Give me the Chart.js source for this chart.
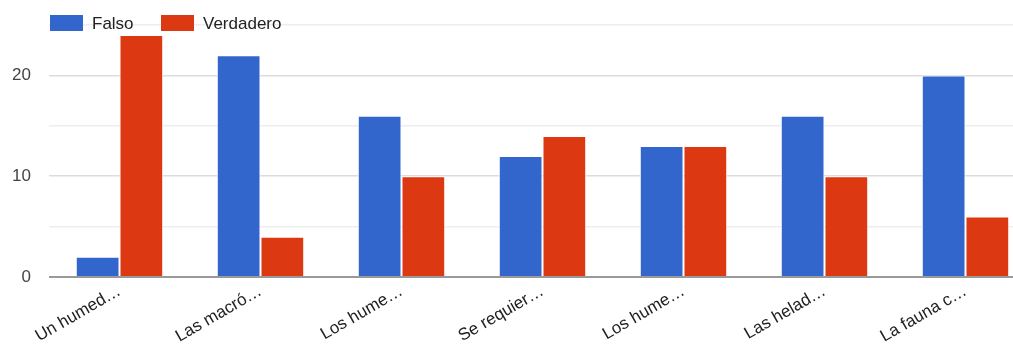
<!DOCTYPE html>
<html lang="es">
<head>
  <meta charset="UTF-8">
  <title>Falso / Verdadero</title>
  <style>
    html, body { margin: 0; padding: 0; background: #fff; overflow: hidden; }
    /* el gráfico es más ancho que la ventana; el borde derecho queda recortado */
    .chart-container { position: relative; width: 1036px; height: 344px; }
  </style>
</head>
<body>
  <div class="chart-container">
    <canvas id="barChart"></canvas>
  </div>

  <script src="https://cdn.jsdelivr.net/npm/chart.js"></script>
  <script>
    // Datos de la encuesta
    const preguntas = ['Un humed…', 'Las macró…', 'Los hume…', 'Se requier…', 'Los hume…', 'Las helad…', 'La fauna c…'];
    const falso = [2, 22, 16, 12, 13, 16, 20];
    const verdadero = [24, 4, 10, 14, 13, 10, 6];
    const yMax = 25;

    const FONT = "Arial, 'Liberation Sans', sans-serif";

    // Leyenda dibujada encima de la primera línea de la cuadrícula
    const topLegend = {
      id: 'topLegend',
      afterDraw(chart) {
        const ctx = chart.ctx;
        let x = 50;
        const y = 15;
        ctx.save();
        ctx.font = '17px ' + FONT;
        ctx.textBaseline = 'middle';
        chart.data.datasets.forEach(ds => {
          ctx.fillStyle = ds.backgroundColor;
          ctx.fillRect(x, y, 33, 16);
          ctx.fillStyle = '#222';
          ctx.fillText(ds.label, x + 42, y + 9);
          x += 111;
        });
        ctx.restore();
      }
    };

    const ctx = document.getElementById('barChart').getContext('2d');
    new Chart(ctx, {
      type: 'bar',
      data: {
        labels: preguntas,
        datasets: [
          { label: 'Falso', data: falso, backgroundColor: '#3366cc', borderColor: '#ffffff', borderWidth: 1 },
          { label: 'Verdadero', data: verdadero, backgroundColor: '#dc3912', borderColor: '#ffffff', borderWidth: 1 }
        ]
      },
      options: {
        responsive: true,
        maintainAspectRatio: false,
        animation: false,
        layout: { padding: { top: 25, right: 0, bottom: 0, left: 0 } },
        datasets: { bar: { categoryPercentage: 0.62, barPercentage: 1.0 } },
        plugins: {
          legend: { display: false },
          tooltip: { enabled: false }
        },
        scales: {
          x: {
            grid: { display: false },
            border: { display: false },
            ticks: {
              autoSkip: false,
              minRotation: 30,
              maxRotation: 30,
              color: '#222',
              padding: -4,
              font: { family: FONT, size: 17 }
            },
            afterFit: scale => { scale.height = 67; }
          },
          y: {
            min: 0,
            max: yMax,
            border: { display: false },
            grid: {
              drawTicks: false,
              color: c => c.tick.value === 0 ? '#999' : (c.tick.value % 10 === 0 ? '#dcdcdc' : '#ededed'),
              lineWidth: c => c.tick.value === 0 ? 2 : 1.5
            },
            ticks: {
              stepSize: 5,
              padding: 18,
              color: '#444',
              font: { family: FONT, size: 17 },
              callback: v => v % 10 === 0 ? v : ''
            },
            afterFit: scale => {
              scale.width = 49;
              // las etiquetas no deben empujar el área del gráfico
              scale.paddingTop = 0;
              scale.paddingBottom = 0;
            }
          }
        }
      },
      plugins: [topLegend]
    });
  </script>
</body>
</html>
